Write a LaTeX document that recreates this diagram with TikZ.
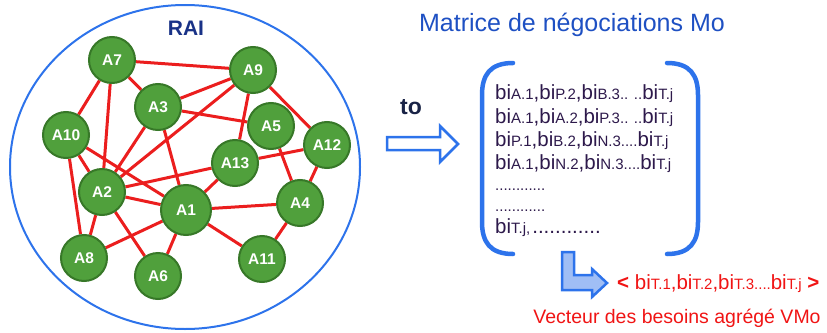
\documentclass[tikz,border=0pt]{standalone}
\usepackage{fontspec}
\setmainfont{Liberation Sans}
\usetikzlibrary{backgrounds}
\definecolor{nodefill}{RGB}{80,160,60}
\definecolor{nodeedge}{RGB}{55,120,40}
\definecolor{edgered}{RGB}{235,30,30}
\definecolor{ringblue}{RGB}{45,115,235}
\definecolor{raiblue}{RGB}{25,50,135}
\definecolor{titleblue}{RGB}{30,80,195}
\definecolor{matink}{RGB}{45,25,75}
\definecolor{tonavy}{RGB}{25,35,70}
\definecolor{vecred}{RGB}{240,20,20}
\definecolor{lightfill}{RGB}{160,190,245}
\newcommand{\bisub}[1]{bi{\fontsize{15}{16}\selectfont #1}}
\newcommand{\smd}[1]{{\fontsize{15}{16}\selectfont #1}}
\begin{document}
\begin{tikzpicture}[x=1pt,y=-1pt,
  agent/.style={circle,draw=nodeedge,line width=2pt,fill=nodefill,minimum size=46pt,inner sep=0pt,
     text=white,font=\fontsize{15.5}{17}\selectfont\bfseries},
  link/.style={draw=edgered,line width=3pt},
  blockarrow/.style={draw=ringblue,line width=2.5pt,line join=miter},
  bracket/.style={draw=ringblue,line width=4.5pt,line cap=round},
  matline/.style={anchor=base west,inner sep=0pt,text=matink,font=\fontsize{20.5}{22}\selectfont},
  vecline/.style={anchor=base west,inner sep=0pt,text=vecred,font=\fontsize{20.5}{22}\selectfont}]
\useasboundingbox (0,0) rectangle (827,332);
% outer ring
\draw[ringblue,line width=2pt] (185,167) ellipse [x radius=175, y radius=162];
\node[text=raiblue,font=\fontsize{21}{24}\selectfont\bfseries] (rai) at (186,28) {RAI};
% agents
\node[agent] (A7) at (112,60) {A7};
\node[agent] (A9) at (253,70) {A9};
\node[agent] (A3) at (158,107) {A3};
\node[agent] (A5) at (271,126) {A5};
\node[agent] (A10) at (66,135) {A10};
\node[agent] (A12) at (327,145) {A12};
\node[agent] (A13) at (235,163) {A13};
\node[agent] (A2) at (102,192) {A2};
\node[agent,minimum size=50pt] (A1) at (186,210) {A1};
\node[agent] (A4) at (300,203) {A4};
\node[agent] (A8) at (84,258) {A8};
\node[agent] (A6) at (158,276) {A6};
\node[agent] (A11) at (262,259) {A11};
\begin{scope}[on background layer]
\foreach \a/\b in {A7/A9,A7/A10,A7/A3,A7/A2,A9/A3,A9/A2,A9/A13,A9/A12,A3/A5,A3/A2,A3/A1,
  A10/A2,A10/A1,A10/A8,A13/A2,A13/A12,A13/A1,A5/A4,A12/A4,A2/A1,A2/A8,A2/A6,A1/A8,A1/A4,
  A1/A6,A1/A11,A4/A11}
  \draw[link] (\a) -- (\b);
\end{scope}
% title and to arrow
\node[text=titleblue,font=\fontsize{25}{28}\selectfont] (title) at (572,25) {Matrice de négociations Mo};
\node[text=tonavy,font=\fontsize{23}{26}\selectfont\bfseries] (to) at (411,107) {to};
\draw[blockarrow,fill=white] (387,137) -- (440,137) -- (440,126) -- (458,144) -- (440,162) -- (440,150) -- (387,150) -- cycle;
% brackets
\draw[bracket] (513,63) .. controls (490,63) and (482,75) .. (482,95) -- (482,222) .. controls (482,242) and (490,254) .. (513,254);
\draw[bracket] (667,63) .. controls (690,63) and (698,75) .. (698,95) -- (698,222) .. controls (698,242) and (690,254) .. (667,254);
% matrix rows
\node[matline] (r1) at (495,99) {\bisub{A.1},\bisub{P.2},\bisub{B.3}\smd{.. ..}\bisub{T.j}};
\node[matline] (r2) at (495,123) {\bisub{A.1},\bisub{A.2},\bisub{P.3}\smd{.. ..}\bisub{T.j}};
\node[matline] (r3) at (495,146) {\bisub{P.1},\bisub{B.2},\bisub{N.3}\smd{....}\bisub{T.j}};
\node[matline] (r4) at (495,169) {\bisub{A.1},\bisub{N.2},\bisub{N.3}\smd{....}\bisub{T.j}};
\node[matline] (r5) at (495,190) {\smd{............}};
\node[matline] (r6) at (495,211) {\smd{............}};
\node[matline] (r7) at (495,233) {\bisub{T.j,}\hspace{2pt}............};
% L arrow
\draw[blockarrow,fill=lightfill] (562,252) -- (574,252) -- (574,275) -- (592,275) -- (592,269) -- (607,283) -- (592,297) -- (592,290) -- (562,290) -- cycle;
% vector
\node[vecline] (vec) at (617,289) {\textbf{<}\ \bisub{T.1},\bisub{T.2},\bisub{T.3}\smd{....}\bisub{T.j}\ \textbf{>}};
\node[text=vecred,font=\fontsize{19.5}{22}\selectfont] (vlabel) at (677,318) {Vecteur des besoins agrégé VMo};
\end{tikzpicture}
\end{document}
